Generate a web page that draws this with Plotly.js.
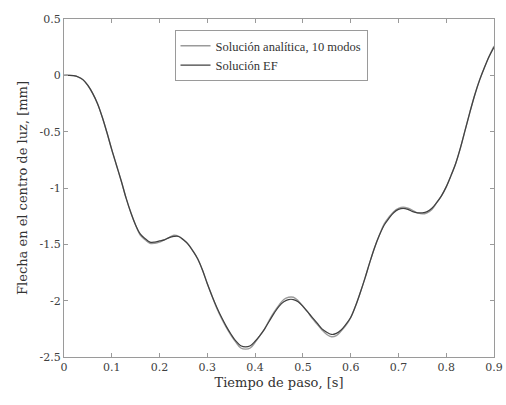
<!DOCTYPE html>
<html>
<head>
<meta charset="utf-8">
<script src="https://cdn.plot.ly/plotly-3.0.1.min.js"></script>
<style>html,body{margin:0;padding:0;background:#fff;}#chart{width:506px;height:405px;}</style>
</head>
<body>
<div id="chart"></div>
<script>
var tiempo = [0,0.01,0.02,0.03,0.04,0.05,0.06,0.07,0.08,0.09,0.10,0.11,0.12,0.13,0.14,0.15,0.16,0.17,0.18,0.19,0.20,0.21,0.22,0.23,0.24,0.25,0.26,0.27,0.28,0.29,0.30,0.31,0.32,0.33,0.34,0.35,0.36,0.37,0.38,0.39,0.40,0.41,0.42,0.43,0.44,0.45,0.46,0.47,0.48,0.49,0.50,0.51,0.52,0.53,0.54,0.55,0.56,0.57,0.58,0.59,0.60,0.61,0.62,0.63,0.64,0.65,0.66,0.67,0.68,0.69,0.70,0.71,0.72,0.73,0.74,0.75,0.76,0.77,0.78,0.79,0.80,0.81,0.82,0.83,0.84,0.85,0.86,0.87,0.88,0.89,0.90];
var flechaEF = [0,0,-0.003,-0.015,-0.04,-0.09,-0.16,-0.25,-0.37,-0.51,-0.66,-0.80,-0.94,-1.09,-1.22,-1.33,-1.41,-1.45,-1.48,-1.48,-1.47,-1.46,-1.44,-1.43,-1.43,-1.46,-1.50,-1.56,-1.63,-1.73,-1.85,-1.96,-2.06,-2.15,-2.23,-2.30,-2.36,-2.40,-2.41,-2.40,-2.36,-2.31,-2.25,-2.18,-2.11,-2.05,-2.01,-1.99,-1.99,-2.01,-2.05,-2.10,-2.15,-2.20,-2.25,-2.28,-2.30,-2.29,-2.26,-2.21,-2.15,-2.05,-1.93,-1.80,-1.66,-1.53,-1.42,-1.33,-1.27,-1.22,-1.19,-1.18,-1.19,-1.21,-1.22,-1.22,-1.21,-1.18,-1.13,-1.07,-0.99,-0.89,-0.78,-0.64,-0.48,-0.32,-0.17,-0.04,0.07,0.17,0.25];
var flechaAnalitica = [0,0,-0.003,-0.015,-0.04,-0.09,-0.16,-0.25,-0.37,-0.51,-0.66,-0.80,-0.94,-1.09,-1.22,-1.33,-1.42,-1.46,-1.49,-1.49,-1.48,-1.46,-1.44,-1.42,-1.43,-1.46,-1.50,-1.56,-1.63,-1.73,-1.85,-1.96,-2.07,-2.16,-2.24,-2.31,-2.37,-2.42,-2.43,-2.42,-2.37,-2.31,-2.25,-2.17,-2.10,-2.04,-1.99,-1.97,-1.97,-2.00,-2.05,-2.10,-2.16,-2.21,-2.26,-2.30,-2.32,-2.31,-2.27,-2.22,-2.15,-2.05,-1.93,-1.80,-1.66,-1.53,-1.42,-1.32,-1.26,-1.21,-1.18,-1.17,-1.18,-1.20,-1.22,-1.23,-1.22,-1.19,-1.13,-1.07,-0.99,-0.89,-0.78,-0.64,-0.48,-0.32,-0.17,-0.04,0.07,0.17,0.26];
var xTickVals = [0,0.1,0.2,0.3,0.4,0.5,0.6,0.7,0.8,0.9];
var xTickText = ['0','0.1','0.2','0.3','0.4','0.5','0.6','0.7','0.8','0.9'];
var yTickVals = [-2.5,-2,-1.5,-1,-0.5,0,0.5];
var yTickText = ['-2.5','-2','-1.5','-1','-0.5','0','0.5'];

var fontFam = '"DejaVu Serif", "Liberation Serif", serif';
var legendFam = '"Liberation Serif", "DejaVu Serif", serif';
var traces = [
  {x: tiempo, y: flechaAnalitica, type: 'scatter', mode: 'lines', name: 'Solución analítica, 10 modos',
   line: {color: '#9a9a9a', width: 1.4, shape: 'spline'}},
  {x: tiempo, y: flechaEF, type: 'scatter', mode: 'lines', name: 'Solución EF',
   line: {color: '#404040', width: 1.2, shape: 'spline'}}
];
var axisCommon = {
  showgrid: false, zeroline: false, showline: true, mirror: 'ticks', linecolor: '#9a9a9a', linewidth: 1,
  ticks: 'inside', ticklen: 4, tickcolor: '#9a9a9a', tickfont: {family: fontFam, size: 11, color: '#404040'}
};
var layout = {
  width: 506, height: 405,
  margin: {l: 64, r: 12, t: 19, b: 48},
  paper_bgcolor: '#fff', plot_bgcolor: '#fff',
  showlegend: true,
  legend: {x: 0.257, y: 0.967, xanchor: 'left', yanchor: 'top', bgcolor: '#fff', bordercolor: '#9a9a9a', borderwidth: 1,
           itemwidth: 30, font: {family: legendFam, size: 12.5, color: '#333'}, tracegroupgap: 0},
  xaxis: Object.assign({}, axisCommon, {range: [0, 0.9], tickvals: xTickVals, ticktext: xTickText,
           title: {text: 'Tiempo de paso, [s]', font: {family: fontFam, size: 13, color: '#333'}, standoff: 4}}),
  yaxis: Object.assign({}, axisCommon, {range: [-2.5, 0.5], tickvals: yTickVals, ticktext: yTickText,
           title: {text: 'Flecha en el centro de luz, [mm]', font: {family: fontFam, size: 13, color: '#333'}, standoff: 9}})
};
Plotly.newPlot('chart', traces, layout, {displayModeBar: false, staticPlot: true});
</script>
</body>
</html>
